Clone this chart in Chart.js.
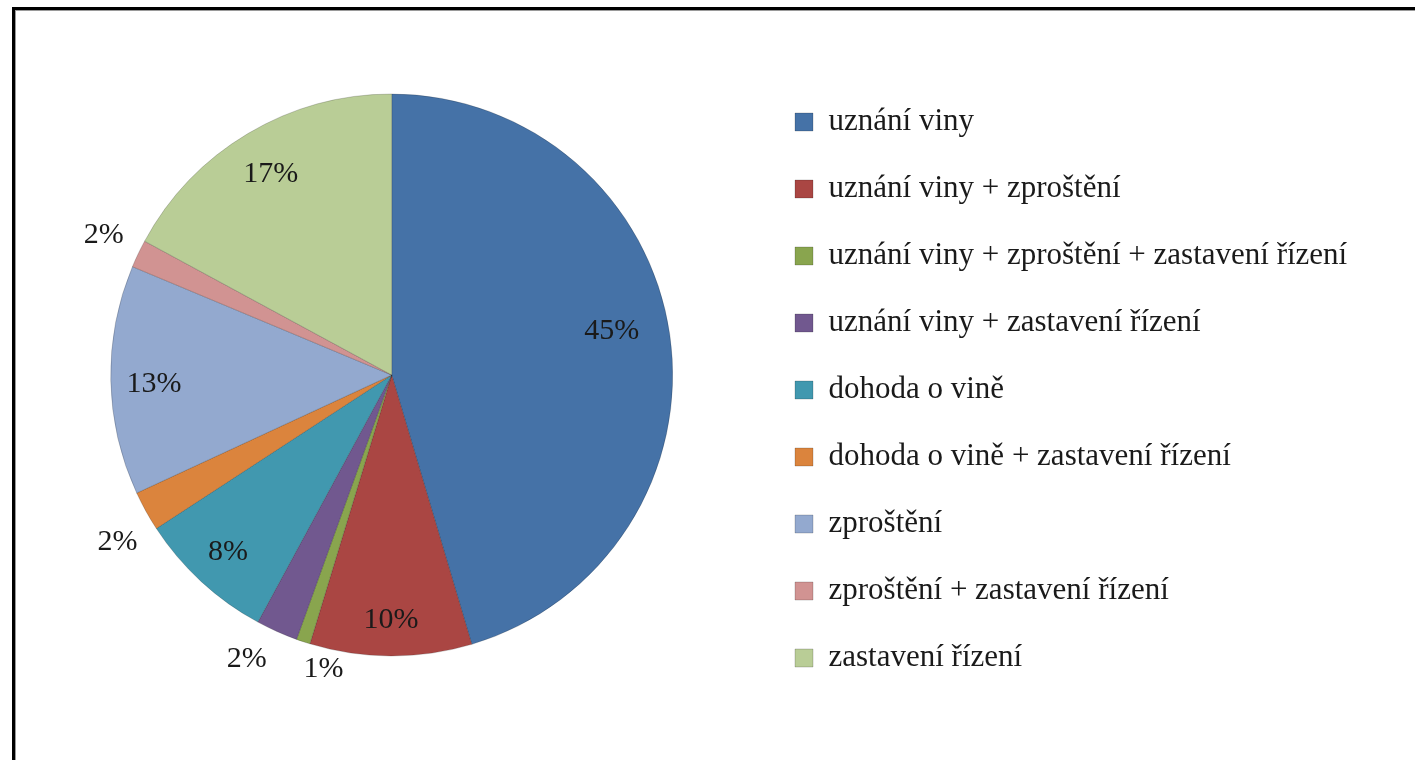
<!DOCTYPE html>
<html>
<head>
<meta charset="utf-8">
<script src="https://cdn.jsdelivr.net/npm/chart.js@4/dist/chart.umd.min.js"></script>
<style>
    html, body { margin: 0; padding: 0; background: #fff; overflow: hidden; }
    #cornice {
        position: absolute; left: 12px; top: 7px;
        width: 1500px; height: 900px;
        border: 3px solid #000;
        box-shadow: inset 1px 1px 0 #9a9a9a;
    }
    #torta { position: absolute; left: 0; top: 0; }
</style>
</head>
<body>
<div id="cornice"></div>
<canvas id="torta" width="1415" height="760"></canvas>
<script>
// dati
var categorie = [
    'uznání viny',
    'uznání viny + zproštění',
    'uznání viny + zproštění + zastavení řízení',
    'uznání viny + zastavení řízení',
    'dohoda o vině',
    'dohoda o vině + zastavení řízení',
    'zproštění',
    'zproštění + zastavení řízení',
    'zastavení řízení'
];
var quote = [45.4, 9.3, 0.8, 2.4, 7.9, 2.3, 13.2, 1.6, 17.1];
var percentuali = ['45%', '10%', '1%', '2%', '8%', '2%', '13%', '2%', '17%'];
var colori = ['#4572A7', '#AA4643', '#89A54E', '#71588F', '#4198AF', '#DB843D', '#93A9CF', '#D19392', '#B9CD96'];

// spostamento etichette: [gradi rispetto al centro della fetta, frazione del raggio]
var spostamento = [[-3.5, 0.80], [0, 0.865], [-5.2, 1.067], [3.1, 1.128], [0.4, 0.853],
                   [-2.1, 1.139], [-0.6, 0.846], [0.6, 1.142], [0, 0.842]];

var font = '"Liberation Serif", "Times New Roman", serif';
var dimensione = 31;

// larghezza della voce piu lunga, per mettere la legenda al posto giusto
var misura = document.createElement('canvas').getContext('2d');
misura.font = dimensione + 'px ' + font;
var piuLunga = 0;
for (var i = 0; i < categorie.length; i++) {
    piuLunga = Math.max(piuLunga, misura.measureText(categorie[i]).width);
}
var inizioLegenda = 759;
var destra = 1415 - inizioLegenda - (36 + 18 + dimensione / 2 + 10) - piuLunga;

var etichette = {
    id: 'etichette',
    afterDatasetsDraw: function (chart) {
        var ctx = chart.ctx;
        var archi = chart.getDatasetMeta(0).data;
        ctx.save();
        ctx.font = '30px ' + font;
        ctx.fillStyle = '#1a1a1a';
        ctx.textAlign = 'center';
        ctx.textBaseline = 'middle';
        for (var i = 0; i < archi.length; i++) {
            var arco = archi[i];
            var angolo = (arco.startAngle + arco.endAngle) / 2 + spostamento[i][0] * Math.PI / 180;
            var r = arco.outerRadius * spostamento[i][1];
            ctx.fillText(percentuali[i], arco.x + Math.cos(angolo) * r, arco.y + Math.sin(angolo) * r + 2);
        }
        ctx.restore();
    }
};

var ctx = document.getElementById('torta');
var chart = new Chart(ctx, {
    type: 'pie',
    data: {
        labels: categorie,
        datasets: [{
            data: quote,
            backgroundColor: colori,
            borderColor: 'rgba(0, 0, 0, 0.18)',
            borderWidth: 1,
            radius: 281
        }]
    },
    options: {
        responsive: false,
        animation: false,
        layout: {
            padding: { left: 24.4, right: destra, top: 0, bottom: 10 }
        },
        plugins: {
            tooltip: { enabled: false },
            legend: {
                position: 'right',
                align: 'center',
                title: { display: true, text: ' ', font: { size: 10, lineHeight: 1 }, padding: 10 },
                labels: {
                    boxWidth: 18,
                    boxHeight: 18,
                    padding: 36,
                    color: '#1a1a1a',
                    font: { family: font, size: dimensione }
                }
            }
        }
    },
    plugins: [etichette]
});
</script>
</body>
</html>
